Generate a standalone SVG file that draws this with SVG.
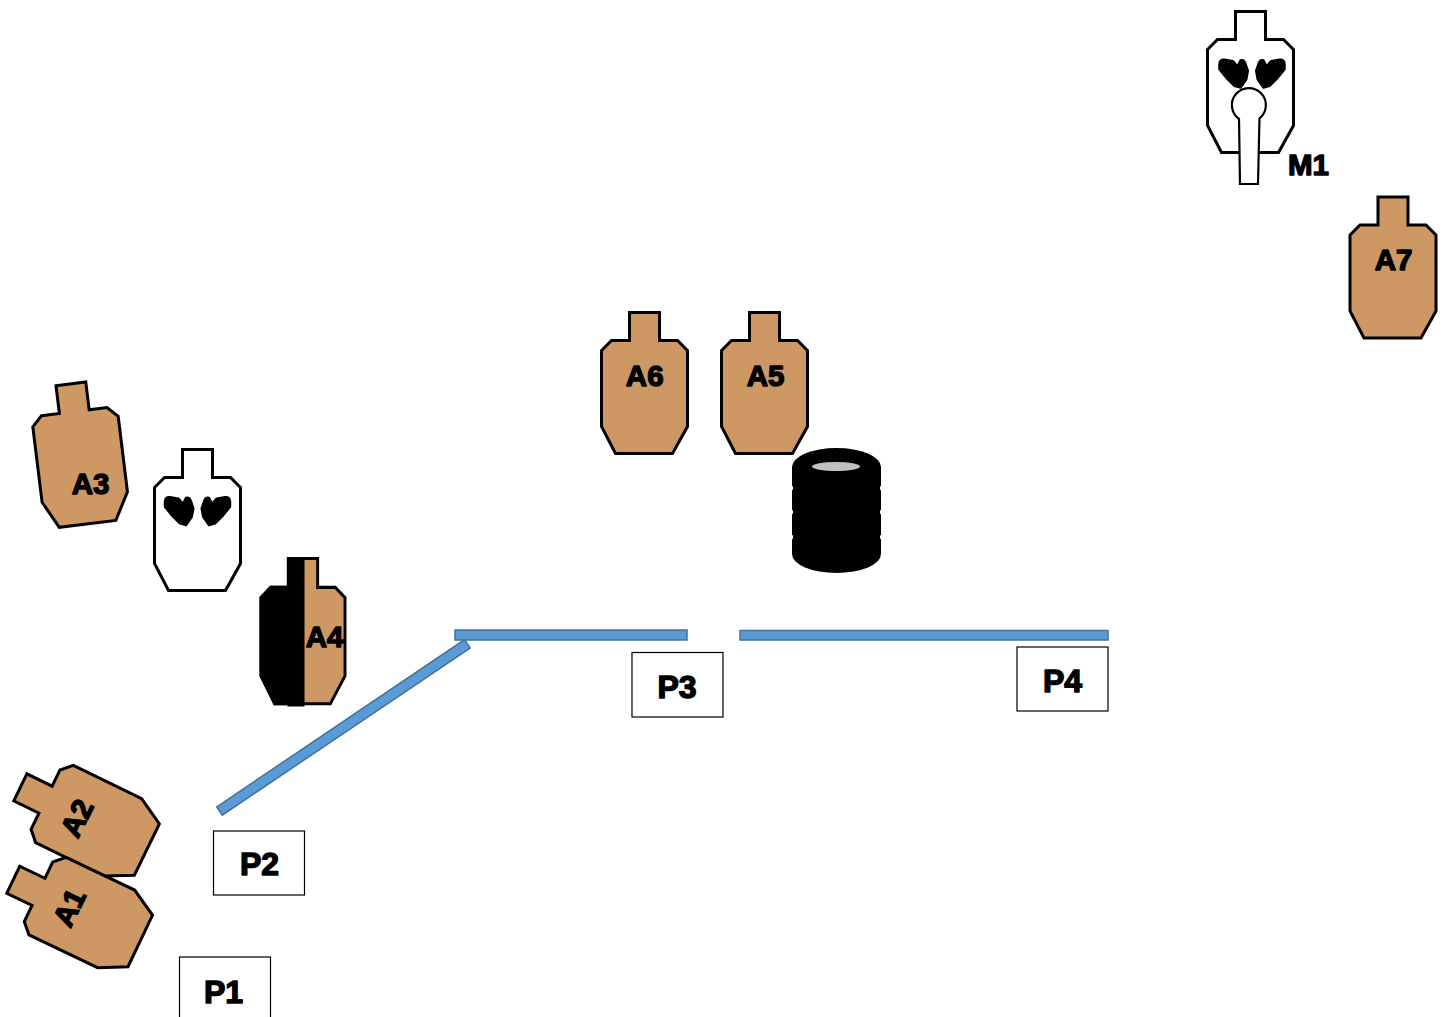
<svg xmlns="http://www.w3.org/2000/svg" width="1446" height="1017" viewBox="0 0 1446 1017">
  <style>
    .tan { fill: #CE9865; stroke: #000; stroke-width: 3; stroke-linejoin: miter; }
    .white { fill: #FFFFFF; stroke: #000; stroke-width: 3; }
    .wall { fill: #5B9BD5; stroke: #41719C; stroke-width: 1.5; }
    .pos { fill: #FFFFFF; stroke: #000; stroke-width: 1.2; }
    .lbl { font-family: "Liberation Sans", Arial, sans-serif; font-weight: bold; fill: #000; stroke: #000; stroke-width: 1.4; stroke-linejoin: round; text-anchor: middle; }
    .a { font-size: 29.5px; }
    .p { font-size: 32px; }
  </style>
  <defs>
    <!-- IPSC-style silhouette, 86 x 141 -->
    <path id="sil" d="M28,0 H58 V28 H76 L86,38 V114 L71,141 H14 L0,114 V38 L10,28 H28 Z"/>
    <!-- pair of hands drawn on no-shoot targets -->
    <g id="hands">
      <path d="M10.5,52.2 Q11,47 15.5,47.8 L23.8,49.2 L28.6,54.5 L31.6,48.4 Q35,47.5 36.4,51.8 L38.8,58.8 L37.2,67.2 L31.5,75.5 L25.5,73.8 L17.2,65.5 L10.5,57.2 Z" fill="#000" stroke="#000" stroke-width="2.5" stroke-linejoin="round"/>
      <path d="M75.5,52.2 Q75,47 70.5,47.8 L62.2,49.2 L57.4,54.5 L54.4,48.4 Q51,47.5 49.6,51.8 L47.2,58.8 L48.8,67.2 L54.5,75.5 L60.5,73.8 L68.8,65.5 L75.5,57.2 Z" fill="#000" stroke="#000" stroke-width="2.5" stroke-linejoin="round"/>
    </g>
    <clipPath id="a4left">
      <rect x="-10" y="-10" width="54" height="170"/>
    </clipPath>
  </defs>

  <rect width="1446" height="1017" fill="#FFFFFF"/>

  <!-- walls -->
  <g id="walls">
    <rect class="wall" x="455" y="630" width="232" height="10"/>
    <rect class="wall" x="740" y="630.5" width="368" height="9.5"/>
    <rect class="wall" x="0" y="-5" width="299" height="10" transform="translate(219.5,811) rotate(-34)"/>
  </g>

  <!-- no-shoot target with hands and hostage keyhole -->
  <g id="M1">
    <use href="#sil" class="white" transform="translate(1207.5,11.5)"/>
    <use href="#hands" transform="translate(1209,12)"/>
    <path d="M1240,184 L1239,119 A17,17 0 1 1 1259.5,118.4 L1258,184 Z" fill="#FFFFFF" stroke="#000" stroke-width="2.2"/>
    <text class="lbl a" x="1308.5" y="175">M1</text>
  </g>

  <g id="A7">
    <use href="#sil" class="tan" transform="translate(1350,197)"/>
    <text class="lbl a" x="1393.5" y="270">A7</text>
  </g>

  <g id="A6">
    <use href="#sil" class="tan" transform="translate(601.5,312.5)"/>
    <text class="lbl a" x="644.7" y="386">A6</text>
  </g>

  <g id="A5">
    <use href="#sil" class="tan" transform="translate(721.5,312.5)"/>
    <text class="lbl a" x="765.5" y="386">A5</text>
  </g>

  <!-- barrel stack -->
  <g id="barrels">
    <ellipse cx="836.5" cy="467" rx="44.5" ry="19" fill="#000"/>
    <rect x="792" y="467" width="89" height="87" fill="#000"/>
    <ellipse cx="836.5" cy="554" rx="44.5" ry="19" fill="#000"/>
    <ellipse cx="836" cy="466.5" rx="24" ry="4.5" fill="#BFBFBF"/>
    <g fill="#FFFFFF">
      <ellipse cx="791.5" cy="488" rx="1.6" ry="2.5"/>
      <ellipse cx="791.5" cy="512" rx="1.6" ry="2.5"/>
      <ellipse cx="791.5" cy="537" rx="1.6" ry="2.5"/>
      <ellipse cx="881.5" cy="488" rx="1.6" ry="2.5"/>
      <ellipse cx="881.5" cy="512" rx="1.6" ry="2.5"/>
      <ellipse cx="881.5" cy="537" rx="1.6" ry="2.5"/>
    </g>
  </g>

  <g id="A3">
    <use href="#sil" class="tan" transform="translate(28.2,389.1) rotate(-7)"/>
    <text class="lbl a" x="90.5" y="494">A3</text>
  </g>

  <g id="NS1">
    <use href="#sil" class="white" transform="translate(154.5,449.5)"/>
    <use href="#hands" transform="translate(154.5,449.5)"/>
  </g>

  <!-- partially covered target -->
  <g id="A4">
    <g transform="translate(261,558.5) scale(0.977,1.03)">
      <use href="#sil" class="tan"/>
      <use href="#sil" fill="#000" stroke="#000" stroke-width="3" clip-path="url(#a4left)"/>
    </g>
    <rect x="287.5" y="557" width="17" height="149.5" fill="#000"/>
    <text class="lbl a" x="324.5" y="647">A4</text>
  </g>

  <g id="A2">
    <use href="#sil" class="tan" transform="translate(1.5,826) rotate(-64)"/>
    <text class="lbl a" x="0" y="10.5" transform="translate(76.7,818) rotate(-64)">A2</text>
  </g>

  <g id="A1">
    <use href="#sil" class="tan" transform="translate(-5.3,918.6) rotate(-64.5)"/>
    <text class="lbl a" x="0" y="10.5" transform="translate(69,907.5) rotate(-64)">A1</text>
  </g>

  <!-- shooting positions -->
  <g id="P1">
    <rect class="pos" x="179.5" y="957" width="91" height="70"/>
    <text class="lbl p" x="223.5" y="1002.5">P1</text>
  </g>
  <g id="P2">
    <rect class="pos" x="213.5" y="831" width="91" height="64"/>
    <text class="lbl p" x="259.5" y="875">P2</text>
  </g>
  <g id="P3">
    <rect class="pos" x="632" y="652.5" width="91" height="64.5"/>
    <text class="lbl p" x="677" y="698">P3</text>
  </g>
  <g id="P4">
    <rect class="pos" x="1017" y="647" width="91" height="64"/>
    <text class="lbl p" x="1062.5" y="691.5">P4</text>
  </g>
</svg>
